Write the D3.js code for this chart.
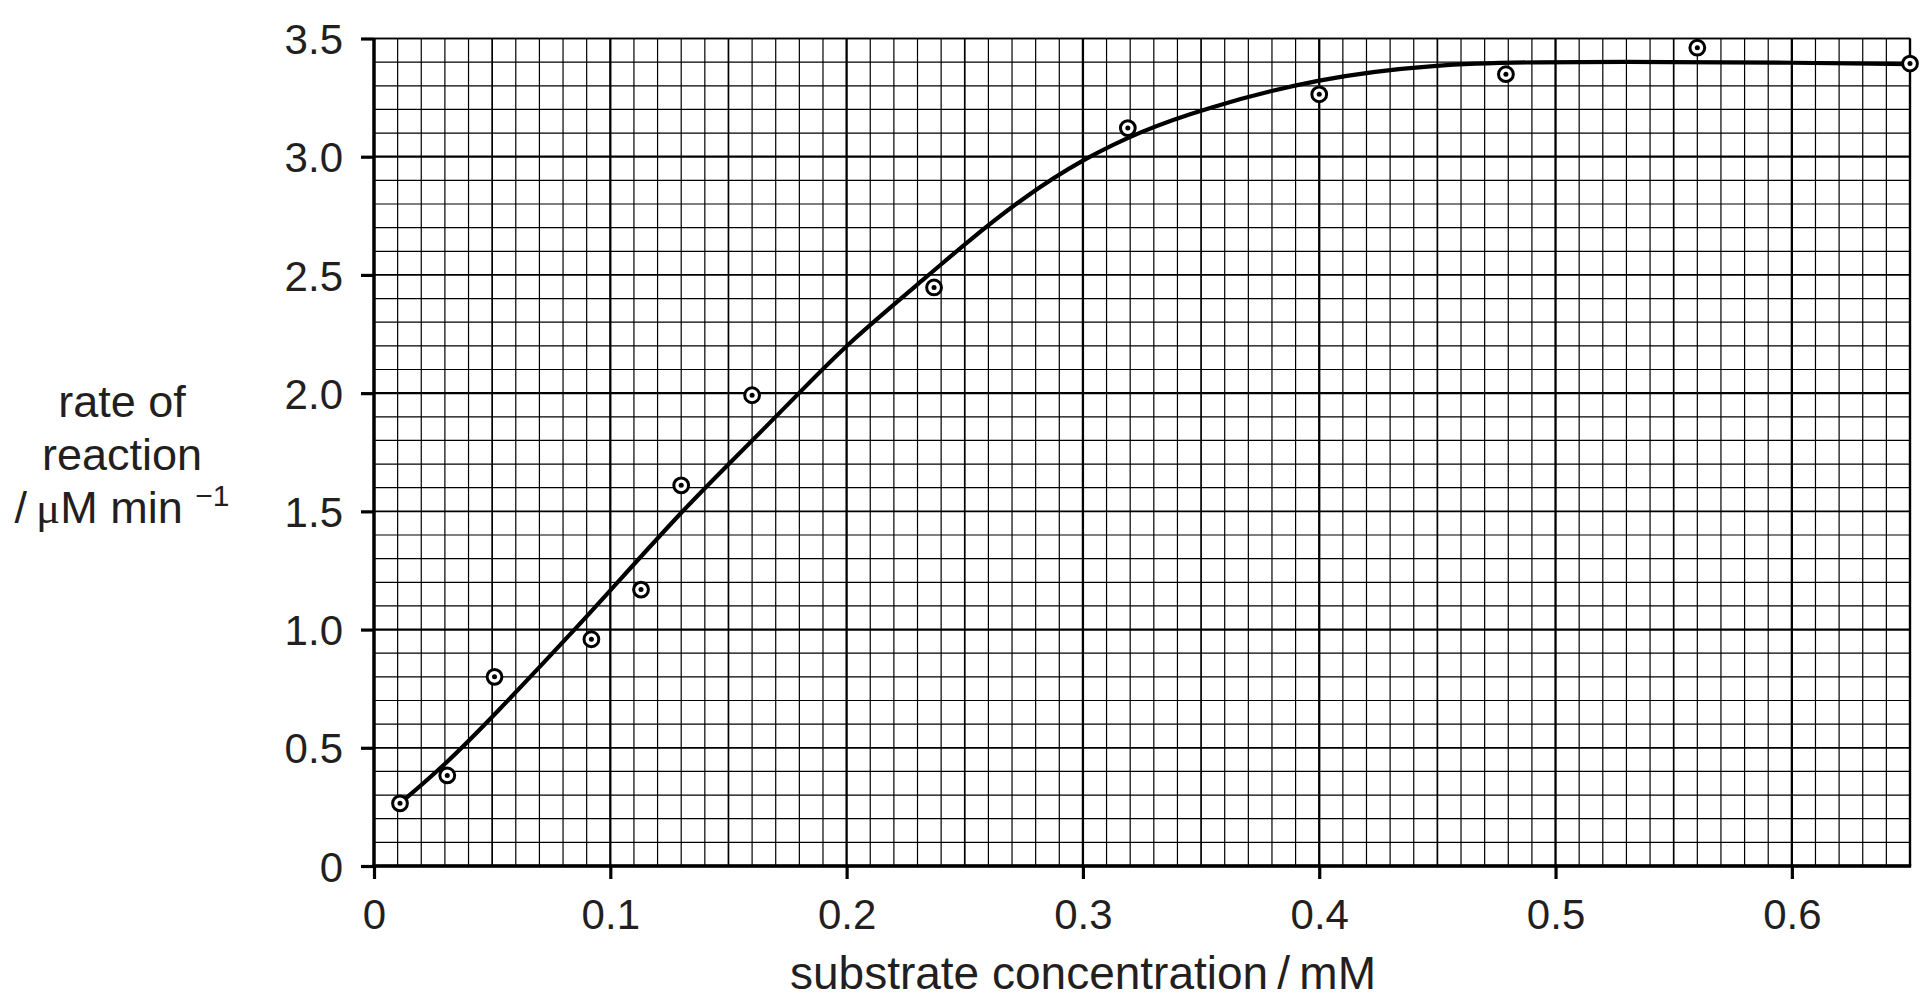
<!DOCTYPE html>
<html>
<head>
<meta charset="utf-8">
<script src="https://cdn.jsdelivr.net/npm/d3@7"></script>
<style>
  html, body { margin: 0; padding: 0; background: #fff; }
  svg { display: block; }
</style>
</head>
<body>
<svg id="chart"></svg>
<script>
// measured points (substrate concentration / mM, rate / uM min-1)
const concentration = [0.011, 0.031, 0.051, 0.092, 0.113, 0.130, 0.160, 0.237, 0.319, 0.400, 0.479, 0.560, 0.650];
const rate = [0.265, 0.383, 0.800, 0.959, 1.169, 1.610, 1.991, 2.447, 3.121, 3.264, 3.349, 3.461, 3.394];

// hand-drawn line of best fit
const fitX = [0.011, 0.030, 0.050, 0.085, 0.100, 0.130, 0.146, 0.180, 0.200, 0.237, 0.250, 0.275, 0.300, 0.325, 0.350, 0.400, 0.450, 0.490, 0.550, 0.600, 0.650];
const fitY = [0.265, 0.427, 0.628, 1.000, 1.166, 1.497, 1.659, 2.000, 2.208, 2.518, 2.631, 2.830, 2.990, 3.110, 3.200, 3.335, 3.391, 3.401, 3.401, 3.398, 3.392];

const xTickValues = [0, 0.1, 0.2, 0.3, 0.4, 0.5, 0.6];
const xTickLabels = ["0", "0.1", "0.2", "0.3", "0.4", "0.5", "0.6"];
const yTickValues = [0, 0.5, 1.0, 1.5, 2.0, 2.5, 3.0, 3.5];
const yTickLabels = ["0", "0.5", "1.0", "1.5", "2.0", "2.5", "3.0", "3.5"];

const W = 1932, H = 1002;
const plotLeft = 374, plotRight = 1910, plotTop = 38.5, plotBottom = 866;
const FONT = "'Liberation Sans', Arial, Helvetica, sans-serif";
const INK = "#231f20";

const svg = d3.select("#chart").attr("width", W).attr("height", H);

const x = d3.scaleLinear().domain([0, 0.65]).range([plotLeft, plotRight]);
const y = d3.scaleLinear().domain([0, 3.5]).range([plotBottom, plotTop]);

// graph paper grid: small squares, medium every 5, heavy every 10
const grid = svg.append("g");
const xGrid = d3.range(0, 66).map(i => ({ v: i / 100, i }));
const yGrid = d3.range(0, 36).map(i => ({ v: i / 10, i }));
const gridWidth = i => i % 10 === 0 ? 2.3 : (i % 5 === 0 ? 1.7 : 1.2);

grid.selectAll("line.vx")
  .data(xGrid)
  .join("line")
  .attr("class", "vx")
  .attr("x1", d => x(d.v)).attr("x2", d => x(d.v))
  .attr("y1", y(0)).attr("y2", y(3.5))
  .attr("stroke", "#000")
  .attr("stroke-width", d => gridWidth(d.i));

grid.selectAll("line.hy")
  .data(yGrid)
  .join("line")
  .attr("class", "hy")
  .attr("y1", d => y(d.v)).attr("y2", d => y(d.v))
  .attr("x1", x(0)).attr("x2", x(0.65))
  .attr("stroke", "#000")
  .attr("stroke-width", d => gridWidth(d.i));

// frame: top and right edges
grid.append("line")
  .attr("x1", x(0)).attr("x2", x(0.65)).attr("y1", y(3.5)).attr("y2", y(3.5))
  .attr("stroke", "#000").attr("stroke-width", 1.6);
grid.append("line")
  .attr("x1", x(0.65)).attr("x2", x(0.65)).attr("y1", y(0)).attr("y2", y(3.5))
  .attr("stroke", "#000").attr("stroke-width", 2.4);

// axes
const xAxis = d3.axisBottom(x)
  .tickValues(xTickValues)
  .tickFormat((d, i) => xTickLabels[i])
  .tickSize(13)
  .tickPadding(20);

const yAxis = d3.axisLeft(y)
  .tickValues(yTickValues)
  .tickFormat((d, i) => yTickLabels[i])
  .tickSize(13)
  .tickPadding(18);

const gx = svg.append("g").attr("transform", `translate(0,${plotBottom})`).call(xAxis);
const gy = svg.append("g").attr("transform", `translate(${plotLeft},0)`).call(yAxis);

[gx, gy].forEach(g => {
  g.select(".domain").remove();
  g.selectAll(".tick line").attr("stroke", "#000").attr("stroke-width", 3.2);
  g.selectAll(".tick text")
    .attr("fill", INK)
    .style("font-family", FONT)
    .style("font-size", "42px");
});
gy.selectAll(".tick text").attr("dy", "0.36em");
gx.selectAll(".tick text").attr("dy", "0.72em");

// heavy axis lines
svg.append("line")
  .attr("x1", x(0)).attr("x2", x(0)).attr("y1", y(0) + 1.5).attr("y2", y(3.5))
  .attr("stroke", "#000").attr("stroke-width", 3.4);
svg.append("line")
  .attr("x1", x(0) - 1.5).attr("x2", x(0.65) + 1.2).attr("y1", y(0)).attr("y2", y(0))
  .attr("stroke", "#000").attr("stroke-width", 3.4);

// best-fit curve
const fit = fitX.map((v, i) => [v, fitY[i]]);
const line = d3.line()
  .x(d => x(d[0]))
  .y(d => y(d[1]))
  .curve(d3.curveBasis);

svg.append("path")
  .datum(fit)
  .attr("d", line)
  .attr("fill", "none")
  .attr("stroke", "#000")
  .attr("stroke-width", 4.2)
  .attr("stroke-linecap", "round");

// data points: circled dots
const pts = concentration.map((v, i) => ({ c: v, r: rate[i] }));
const marks = svg.append("g").selectAll("g")
  .data(pts)
  .join("g")
  .attr("transform", d => `translate(${x(d.c)},${y(d.r)})`);

marks.append("circle")
  .attr("r", 7.4)
  .attr("fill", "#fff")
  .attr("stroke", "#000")
  .attr("stroke-width", 3);

marks.append("circle")
  .attr("r", 2.5)
  .attr("fill", "#000");

// axis titles
svg.append("text")
  .attr("x", 1083)
  .attr("y", 989)
  .attr("text-anchor", "middle")
  .attr("fill", INK)
  .style("font-family", FONT)
  .style("font-size", "46px")
  .text("substrate concentration\u2009/\u2009mM");

const yt = svg.append("text")
  .attr("text-anchor", "middle")
  .attr("fill", INK)
  .style("font-family", FONT)
  .style("font-size", "45px");

yt.append("tspan").attr("x", 122).attr("y", 417).text("rate of");
yt.append("tspan").attr("x", 122).attr("y", 470).text("reaction");

const yt3 = svg.append("text")
  .attr("x", 122)
  .attr("y", 523)
  .attr("text-anchor", "middle")
  .attr("fill", INK)
  .style("font-family", FONT)
  .style("font-size", "45px");
yt3.append("tspan").text("/\u2009");
yt3.append("tspan").style("font-family", "'Liberation Serif', 'Times New Roman', serif").text("\u03bc");
yt3.append("tspan").text("M min ");
yt3.append("tspan").attr("dy", -17).style("font-size", "30px").text("\u22121");
</script>
</body>
</html>
